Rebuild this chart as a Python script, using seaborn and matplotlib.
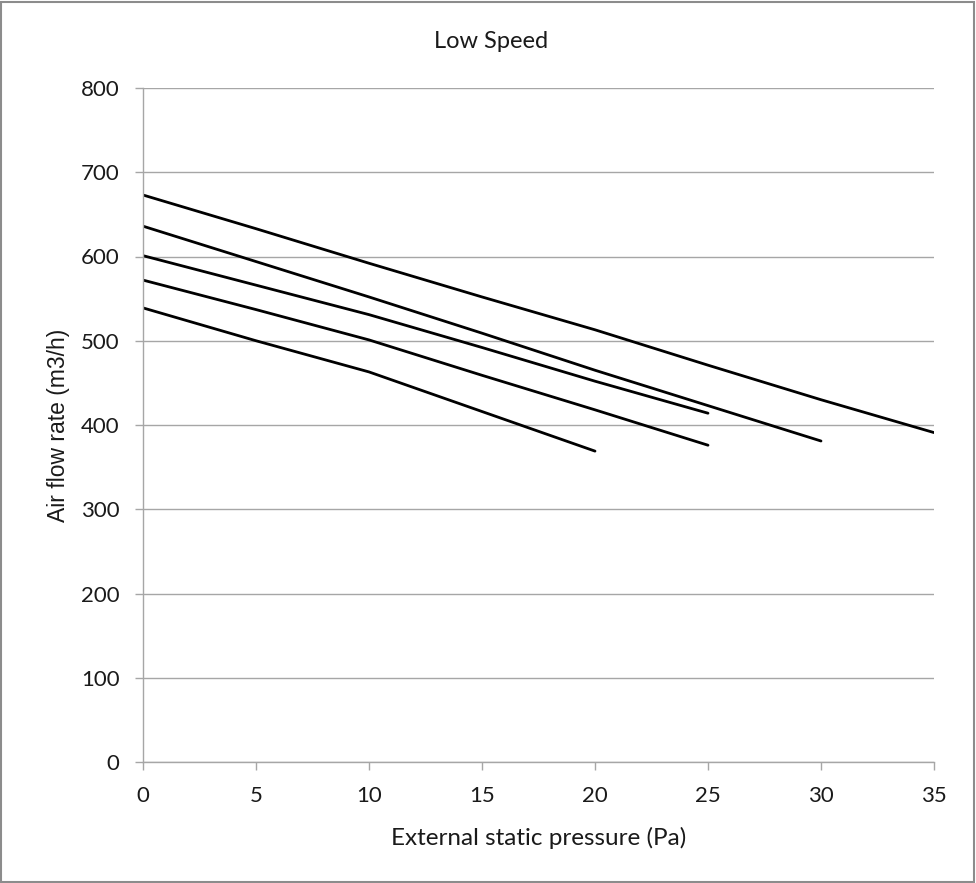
import matplotlib
matplotlib.use('Agg')

import matplotlib.pyplot as plt
import seaborn as sns
import pandas as pd
from matplotlib.patches import Rectangle

# Curve data (pressure in Pa, air flow in m3/h)
pressure = [0, 5, 10, 15, 20, 25, 30, 35]
curve_1 = [673, 633, 592, 552, 513, 471, 430, 391]
curve_2 = [636, 594, 552, 509, 465, 423, 381]
curve_3 = [601, 566, 531, 492, 452, 414]
curve_4 = [572, 537, 501, 459, 418, 376]
curve_5 = [539, 500, 463, 416, 369]

curves = {'1': curve_1, '2': curve_2, '3': curve_3, '4': curve_4, '5': curve_5}
rows = []
for name, vals in curves.items():
    for p, v in zip(pressure, vals):
        rows.append({'curve': name, 'pressure': p, 'flow': v})
df = pd.DataFrame(rows)

sns.set_theme(style='white')
plt.rcParams['font.family'] = ['Lato', 'DejaVu Sans']

GRID = '#a6a6a6'
TEXT = '#1a1a1a'
fig = plt.figure(figsize=(9.76, 8.83), dpi=100, facecolor='white')
ax = fig.add_axes([143 / 976, 1 - 762 / 883, (934 - 143) / 976, (762 - 88) / 883])

sns.lineplot(data=df, x='pressure', y='flow', hue='curve',
             palette=['black'] * 5, linewidth=2.0, legend=False, ax=ax)

ax.set_xlim(0, 35)
ax.set_ylim(0, 800)
ax.set_xticks(range(0, 36, 5))
ax.set_yticks(range(0, 801, 100))
ax.yaxis.grid(True, color=GRID, linewidth=1.0)
ax.xaxis.grid(False)
for side in ['top', 'right']:
    ax.spines[side].set_visible(False)
for side in ['left', 'bottom']:
    ax.spines[side].set_color(GRID)
    ax.spines[side].set_linewidth(1.0)
ax.tick_params(axis='both', which='major', direction='out', length=6, width=1.0,
               color=GRID, labelsize=16, labelcolor=TEXT, left=True, bottom=True)
ax.tick_params(axis='y', pad=11)
ax.tick_params(axis='x', pad=11)

ax.set_xlabel('External static pressure (Pa)', fontsize=17.5, color=TEXT, labelpad=15)
ax.set_ylabel('Air flow rate (m3/h)', fontsize=16.5, color=TEXT, labelpad=8,
              family=['Liberation Sans', 'DejaVu Sans'])
fig.text(0.503, 1 - 42 / 883, 'Low Speed', ha='center', va='center', fontsize=17, color=TEXT)

# outer chart border
fig.add_artist(Rectangle((0.001, 0.001), 0.997, 0.997, transform=fig.transFigure,
                         fill=False, edgecolor='#8c8c8c', linewidth=1.5))

fig.savefig('out.png', dpi=100, facecolor='white')
plt.close(fig)
